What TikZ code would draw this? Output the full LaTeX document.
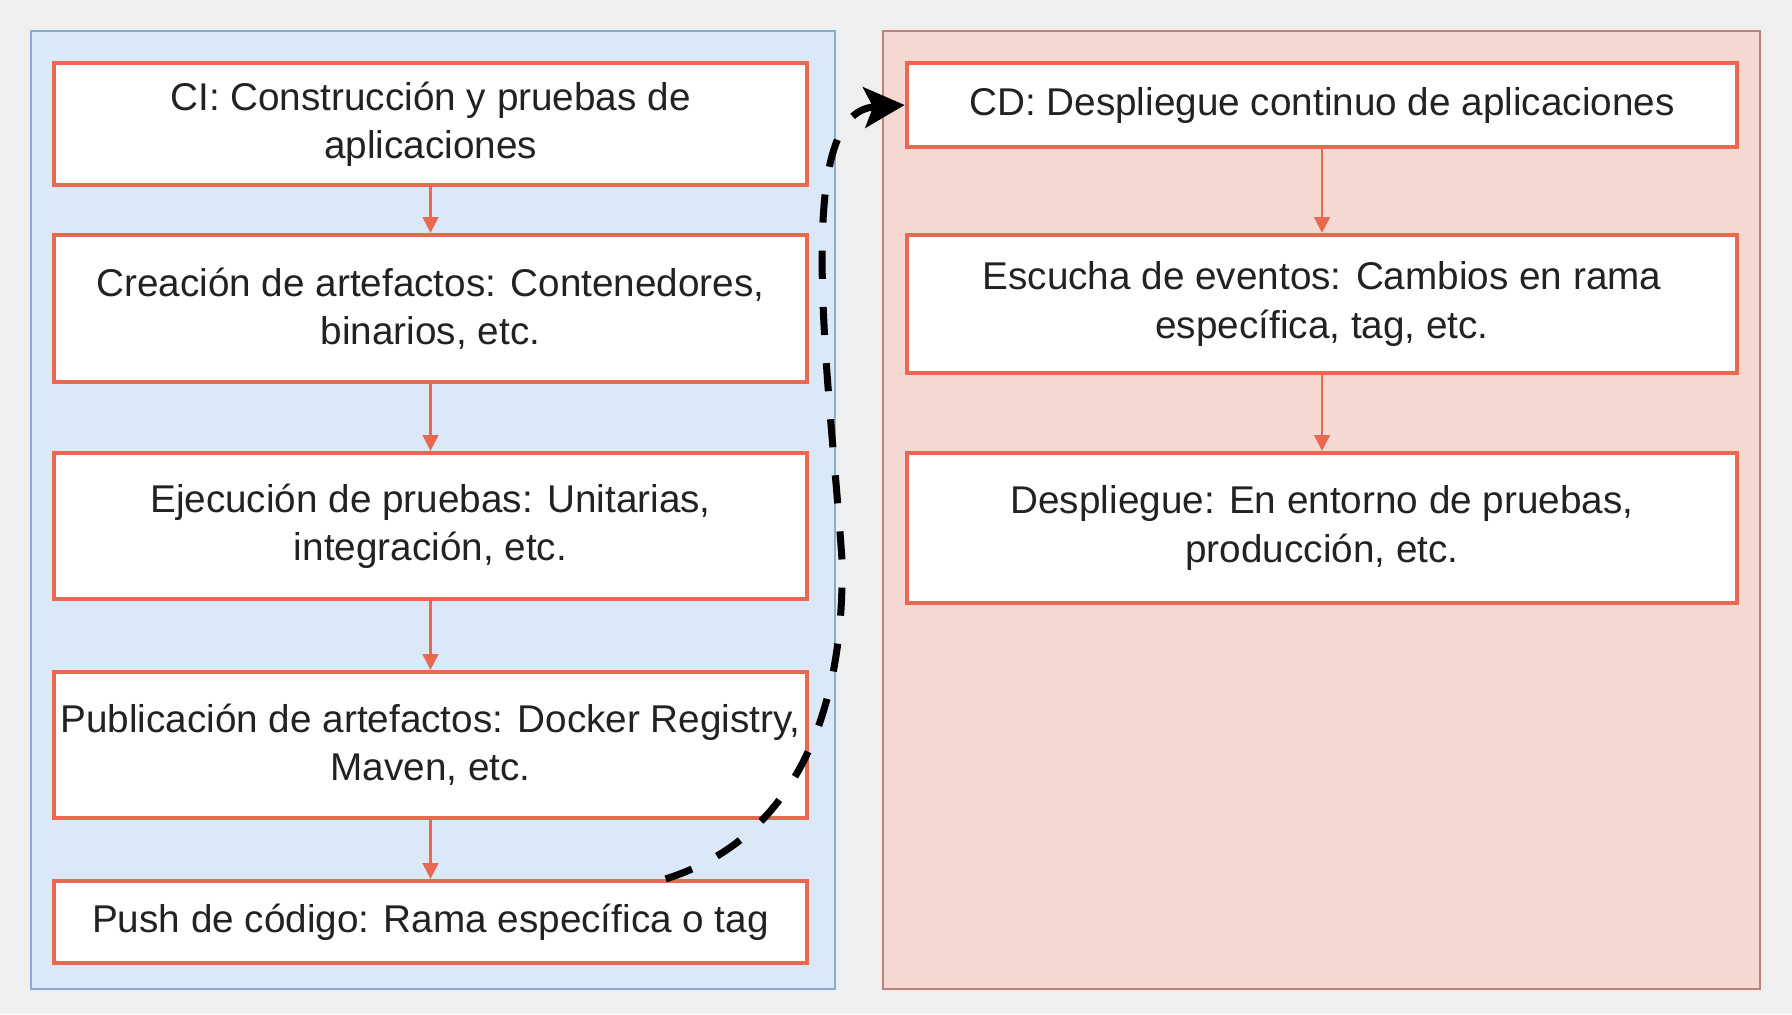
\documentclass[tikz,border=0pt]{standalone}
\usepackage{fontspec}
\setmainfont{Liberation Sans}
\usepackage{tikz}
\usetikzlibrary{arrows, arrows.meta, shapes, positioning}
\definecolor{color_fondo}{RGB}{239,239,239}
\definecolor{color_ci}{RGB}{218,232,248}
\definecolor{color_ci_borde}{RGB}{140,170,212}
\definecolor{color_cd}{RGB}{245,216,210}
\definecolor{color_cd_borde}{RGB}{190,130,120}
\definecolor{color_caja}{RGB}{232,104,80}
\definecolor{color_texto}{RGB}{34,34,34}

\begin{document}
\begin{tikzpicture}[x=0.01cm, y=-0.01cm,
  caja/.style={draw=color_caja, line width=1.2pt, fill=white, align=center,
    text=color_texto, inner sep=0pt, font=\fontsize{11}{13.7}\selectfont},
  caja ci/.style={caja, minimum width=7.53cm},
  caja cd/.style={caja, minimum width=8.30cm},
  flecha/.style={draw=color_caja, line width=0.6pt, -{Triangle[length=4.5pt,width=4.5pt]}},
  flujo/.style={black, line width=2pt, dash pattern=on 8pt off 8pt,
    -{Stealth[length=11.5pt,width=11.5pt,inset=2.5pt]}}]

  % FONDO
  \fill[color_fondo] (0,0) rectangle (1792,1014);
  \useasboundingbox (0,0) rectangle (1792,1014);

  % PANELES
  \draw[fill=color_ci, draw=color_ci_borde, line width=0.5pt] (31,31) rectangle (835,989);
  \draw[fill=color_cd, draw=color_cd_borde, line width=0.5pt] (883,31) rectangle (1760,989);

  %
  % CI
  \node[caja ci, minimum height=1.22cm] (ci) at (430.5,124) {CI: Construcción y pruebas de\\aplicaciones};
  \node[caja ci, minimum height=1.47cm] (creacion) at (430.5,308.5) {Creación de artefactos: Contenedores,\\binarios, etc.};
  \node[caja ci, minimum height=1.46cm] (ejecucion) at (430.5,526) {Ejecución de pruebas: Unitarias,\\integración, etc.};
  \node[caja ci, minimum height=1.46cm] (publicacion) at (430.5,745) {Publicación de artefactos: Docker Registry,\\Maven, etc.};
  \node[caja ci, minimum height=0.82cm] (push) at (430.5,922) {Push de código: Rama específica o tag};

  \draw[flecha] (ci) -- (creacion);
  \draw[flecha] (creacion) -- (ejecucion);
  \draw[flecha] (ejecucion) -- (publicacion);
  \draw[flecha] (publicacion) -- (push);

  %
  % CD
  \node[caja cd, minimum height=0.84cm] (cd) at (1322,105) {CD: Despliegue continuo de aplicaciones};
  \node[caja cd, minimum height=1.38cm] (escucha) at (1322,304) {Escucha de eventos: Cambios en rama\\específica, tag, etc.};
  \node[caja cd, minimum height=1.50cm] (despliegue) at (1322,528) {Despliegue: En entorno de pruebas,\\producción, etc.};

  \draw[flecha] (cd) -- (escucha);
  \draw[flecha] (escucha) -- (despliegue);

  %
  % PUSH -> CD
  \draw[flujo] ([xshift=2.35cm]push.north) .. controls (790,840) and (845,720) .. (842,560)
    .. controls (830,380) and (790,112) .. (cd.west);

\end{tikzpicture}
\end{document}
